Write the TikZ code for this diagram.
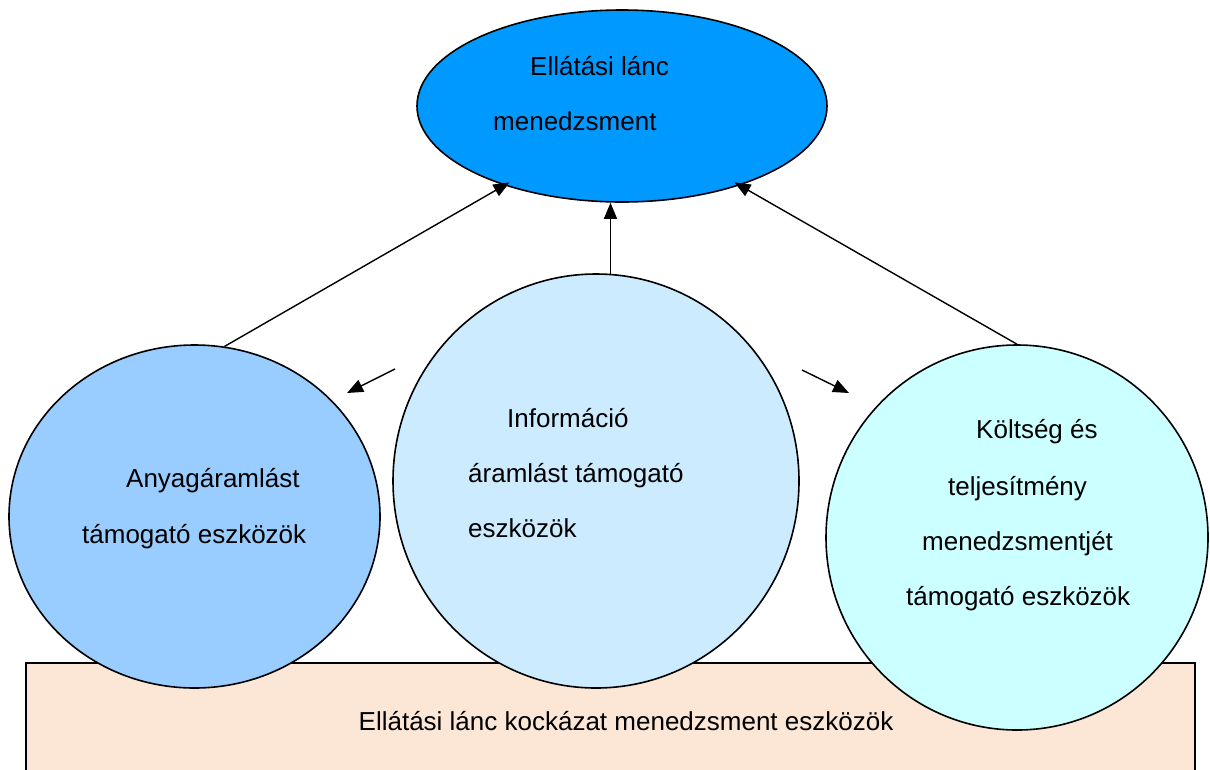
\documentclass[tikz,border=0pt]{standalone}
\usepackage{fontspec}
\setmainfont{Liberation Sans}
\usetikzlibrary{shapes.geometric,arrows.meta}
\definecolor{topblue}{HTML}{0099FF}
\definecolor{leftblue}{HTML}{99CCFF}
\definecolor{midblue}{HTML}{CCEBFF}
\definecolor{rightcyan}{HTML}{CCFFFF}
\definecolor{peach}{HTML}{FCE6D6}
\tikzset{
  shapebox/.style={ellipse, draw=black, line width=1.6pt, inner sep=0pt},
  lbl/.style={anchor=base west, inner sep=0pt, font=\fontsize{26}{30}\selectfont},
  conn/.style={line width=1.4pt, -{Triangle[length=16pt,width=13pt]}}
}
\begin{document}
\begin{tikzpicture}[x=1pt,y=-1pt]
\useasboundingbox (0,0) rectangle (1210,769);
\clip (0,0) rectangle (1210,769);
\fill[white] (0,0) rectangle (1210,769);
% bottom band
\node[draw=black, line width=1.6pt, fill=peach, minimum width=1169pt, minimum height=140pt, inner sep=0pt, anchor=north west] (band) at (25,662) {};
% shapes
\node[shapebox, fill=topblue, minimum width=410pt, minimum height=192pt] (top) at (622,106) {};
\node[shapebox, fill=leftblue, minimum width=371pt, minimum height=343pt] (left) at (194.5,516.5) {};
\node[shapebox, fill=midblue, minimum width=406pt, minimum height=414pt] (mid) at (596,481) {};
\node[shapebox, fill=rightcyan, minimum width=382pt, minimum height=385pt] (right) at (1017,537.5) {};
% connectors
\draw[conn, shorten >=-6pt] (left.80) -- (top.214);
\draw[conn] (mid.86) -- (mid.86 |- top.south);
\draw[conn, shorten >=-6pt] (right.north) -- (top.-34);
\coordinate (la) at (395,369);
\coordinate (lb) at (347,393);
\coordinate (ra) at (802,370);
\coordinate (rb) at (849,393);
\draw[conn] (la) -- (lb);
\draw[conn] (ra) -- (rb);
% texts
\node[lbl] (t1) at (530,75) {Ellátási lánc};
\node[lbl] (t2) at (493,130) {menedzsment};
\node[lbl] (l1) at (126,487) {Anyagáramlást};
\node[lbl] (l2) at (82,543) {támogató eszközök};
\node[lbl] (m1) at (507,427) {Információ};
\node[lbl] (m2) at (468,482) {áramlást támogató};
\node[lbl] (m3) at (468,537) {eszközök};
\node[lbl] (r1) at (976,438) {Költség és};
\node[lbl] (r2) at (948,495) {teljesítmény};
\node[lbl] (r3) at (922,550) {menedzsmentjét};
\node[lbl] (r4) at (906,605) {támogató eszközök};
\node[lbl] (b1) at (358.5,730) {Ellátási lánc kockázat menedzsment eszközök};
\end{tikzpicture}
\end{document}
